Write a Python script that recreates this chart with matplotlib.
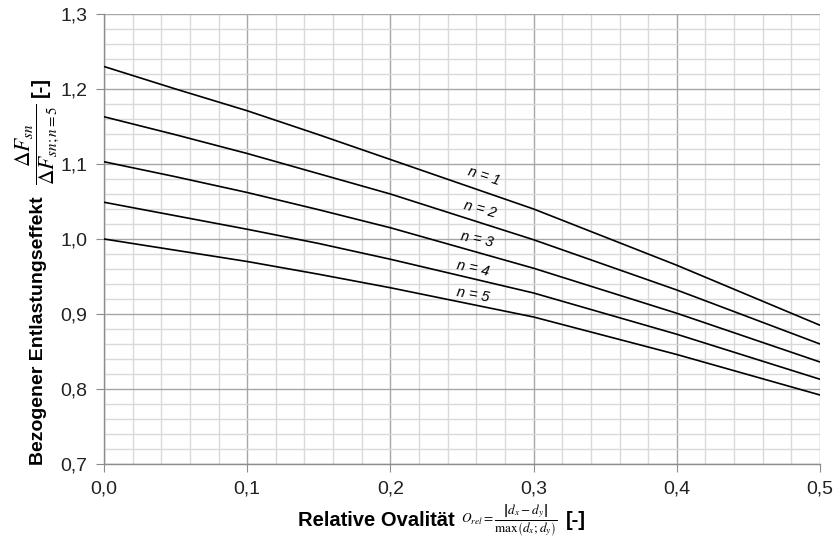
import matplotlib
matplotlib.use('Agg')
import matplotlib.pyplot as plt
from matplotlib.ticker import MultipleLocator, FuncFormatter

plt.rcParams['font.family'] = ['Liberation Sans', 'DejaVu Sans']
plt.rcParams['mathtext.fontset'] = 'stix'

# values
ovalitaet = [0.0, 0.05, 0.1, 0.15, 0.2, 0.3, 0.4, 0.5]
n1 = [1.230, 1.200, 1.171, 1.139, 1.106, 1.040, 0.965, 0.885]
n2 = [1.163, 1.139, 1.114, 1.087, 1.060, 0.999, 0.932, 0.860]
n3 = [1.103, 1.083, 1.062, 1.039, 1.015, 0.961, 0.901, 0.836]
n4 = [1.049, 1.031, 1.013, 0.994, 0.973, 0.928, 0.873, 0.813]
n5 = [1.000, 0.985, 0.970, 0.953, 0.935, 0.896, 0.846, 0.792]
kurven = [n1, n2, n3, n4, n5]
labels = ['n = 1', 'n = 2', 'n = 3', 'n = 4', 'n = 5']

W, H = 836, 545
fig = plt.figure(figsize=(W / 100, H / 100), dpi=100)
ax = fig.add_axes([104 / W, 1 - 464 / H, (820 - 104) / W, (464 - 14) / H])

for y in kurven:
    ax.plot(ovalitaet, y, color='black', lw=1.2, zorder=3)

# curve labels (position / rotation in data coords)
lab_pos = [(0.2656, 1.084, -18), (0.2628, 1.039, -15), (0.2606, 0.999, -12),
           (0.2578, 0.961, -12), (0.2578, 0.925, -10)]
for (lx, ly, rot), txt in zip(lab_pos, labels):
    ax.text(lx, ly, txt, style='italic', fontsize=10.5, rotation=rot,
            ha='center', va='center', zorder=4)

ax.set_xlim(0, 0.5)
ax.set_ylim(0.7, 1.3)
ax.xaxis.set_major_locator(MultipleLocator(0.1))
ax.xaxis.set_minor_locator(MultipleLocator(0.02))
ax.yaxis.set_major_locator(MultipleLocator(0.1))
ax.yaxis.set_minor_locator(MultipleLocator(0.02))
fmt = FuncFormatter(lambda v, p: ('%.1f' % v).replace('.', ','))
ax.xaxis.set_major_formatter(fmt)
ax.yaxis.set_major_formatter(fmt)

ax.grid(which='major', color='#a6a6a6', lw=1.0, zorder=1)
ax.grid(which='minor', color='#d9d9d9', lw=1.0, zorder=0)
ax.set_axisbelow(True)
for s in ['top', 'right']:
    ax.spines[s].set_visible(False)
for s in ['left', 'bottom']:
    ax.spines[s].set_color('#8c8c8c')
    ax.spines[s].set_linewidth(1.0)
ax.tick_params(which='major', length=6, color='#8c8c8c', labelsize=14,
               labelcolor='#222222', pad=6)
ax.tick_params(which='minor', length=0)

# x label pieces
fig.text(376 / W, 1 - 521 / H, 'Relative Ovalität', fontweight='bold',
         fontsize=14.5, ha='center', va='center')
fig.text(461 / W, 1 - 520 / H,
         r'$O_{rel}=\dfrac{\left|d_x - d_y\right|}{\max\left(d_x;d_y\right)}$',
         fontsize=9.5, ha='left', va='center')
fig.text(576 / W, 1 - 521 / H, '[-]', fontweight='bold', fontsize=14.5,
         ha='center', va='center')

# y label pieces
fig.text(39 / W, 1 - 331 / H, 'Bezogener Entlastungseffekt', fontweight='bold',
         fontsize=14, rotation=90, ha='center', va='center')
fig.text(38 / W, 1 - 144 / H, r'$\dfrac{\Delta F_{sn}}{\Delta F_{sn;n=5}}$',
         fontsize=15.5, rotation=90, ha='center', va='center')
fig.text(40 / W, 1 - 87 / H, '[-]', fontweight='bold', fontsize=14.5,
         rotation=90, ha='center', va='center')

fig.savefig('out.png', dpi=100)
